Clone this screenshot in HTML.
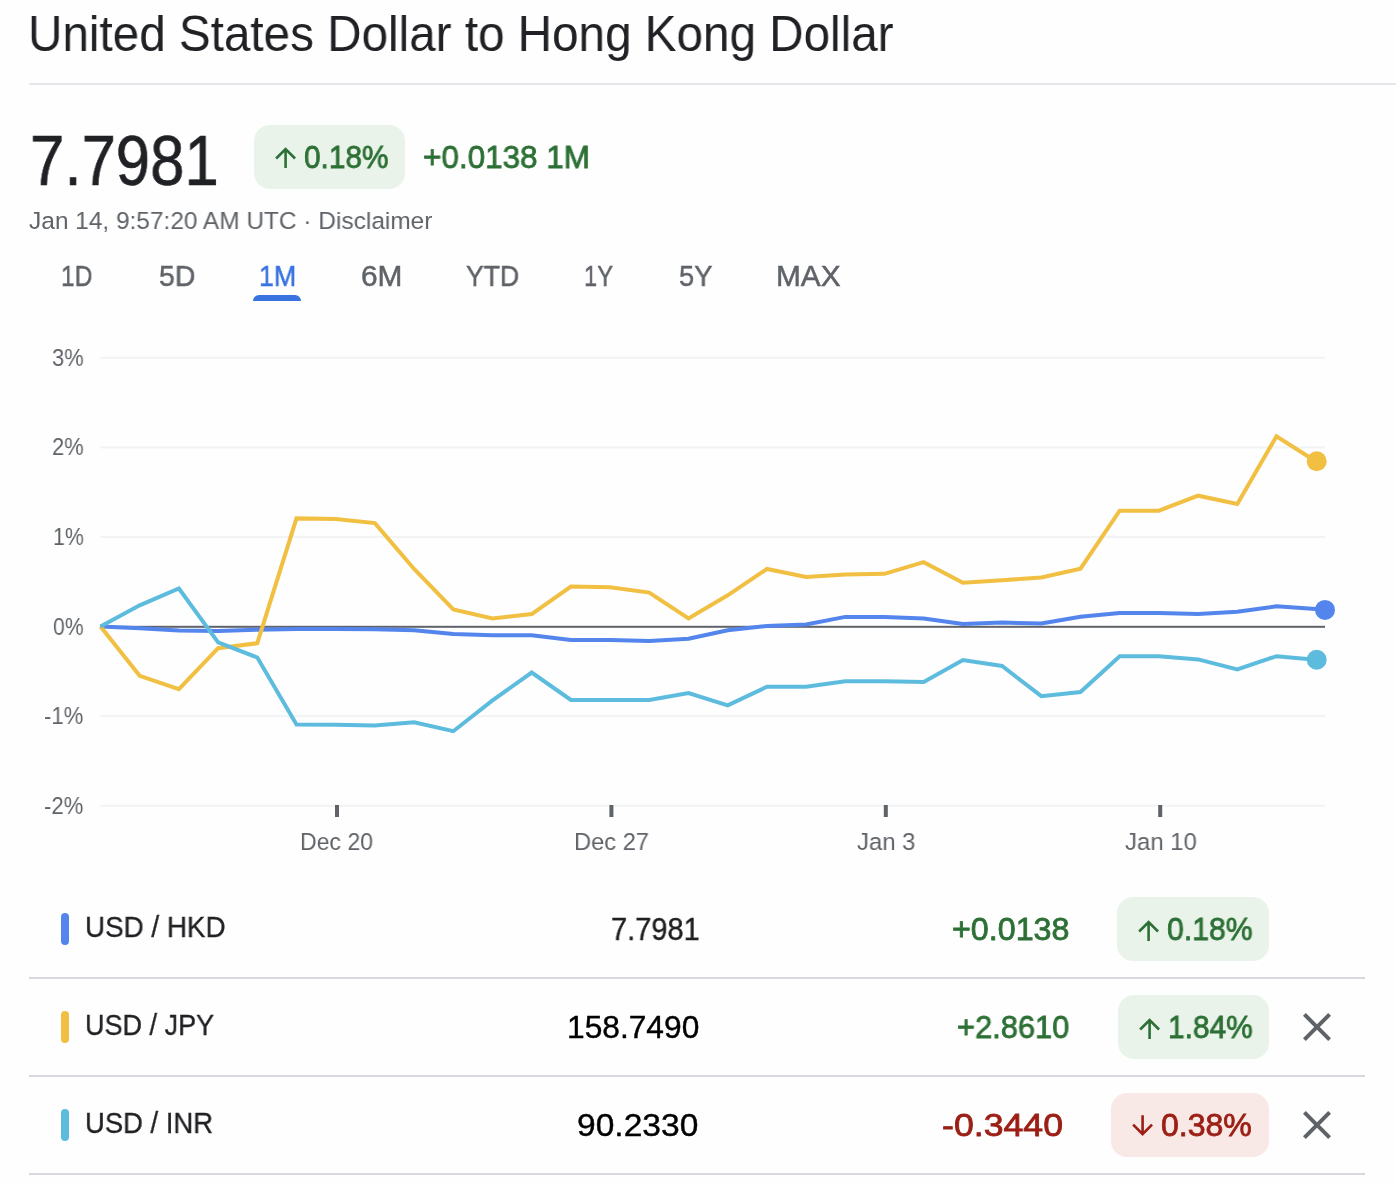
<!DOCTYPE html>
<html><head><meta charset="utf-8"><title>USD to HKD</title>
<style>
html,body{margin:0;padding:0;background:#fefefe;}
body{width:1396px;height:1182px;position:relative;overflow:hidden;font-family:"Liberation Sans",sans-serif;}
.a{position:absolute;display:block;}
.t{position:absolute;white-space:nowrap;line-height:1;display:block;transform-origin:0 0;will-change:transform;-webkit-font-smoothing:antialiased;}
</style></head><body>

<span class="t" id="t_title" style="left:28.02px;top:8.65px;font-size:50.5px;color:#202124;transform:scaleX(0.9430);">United States Dollar to Hong Kong Dollar</span>
<div class="a" style="left:29.00px;top:83.00px;width:1367.00px;height:2.00px;background:#e6e7eb;border-radius:0;"></div>
<span class="t" id="t_price" style="left:29.67px;top:126.05px;font-size:70px;color:#202124;-webkit-text-stroke:0.6px #202124;transform:scaleX(0.8815);">7.7981</span>
<div class="a" style="left:254.00px;top:125.00px;width:151.00px;height:64.00px;background:#e9f3ea;border-radius:16px;"></div>
<svg class="a" style="left:270.00px;top:141.60px" width="31.2" height="31.2" viewBox="0 0 24 24"><path fill="#2d7035" d="M4 12l1.41 1.41L11 7.83V20h2V7.83l5.58 5.59L20 12l-8-8-8 8z"/></svg>
<span class="t" id="t_hb" style="left:303.50px;top:140.81px;font-size:32px;color:#2d7035;-webkit-text-stroke:0.8px #2d7035;transform:scaleX(0.9313);">0.18%</span>
<span class="t" id="t_hc" style="left:422.58px;top:140.81px;font-size:32px;color:#2d7035;-webkit-text-stroke:0.8px #2d7035;transform:scaleX(0.9825);">+0.0138 1M</span>
<span class="t" id="t_ts" style="left:29.39px;top:208.66px;font-size:24.5px;color:#5f6368;transform:scaleX(0.9975);">Jan 14, 9:57:20 AM UTC · Disclaimer</span>
<span class="t" id="t_tab_1D" style="left:61.34px;top:262.15px;font-size:29px;color:#5f6368;-webkit-text-stroke:0.5px #5f6368;transform:scaleX(0.8436);">1D</span>
<span class="t" id="t_tab_5D" style="left:158.51px;top:262.15px;font-size:29px;color:#5f6368;-webkit-text-stroke:0.5px #5f6368;transform:scaleX(0.9774);">5D</span>
<span class="t" id="t_tab_1M" style="left:259.34px;top:262.15px;font-size:29px;color:#3873e0;-webkit-text-stroke:0.5px #3873e0;transform:scaleX(0.9205);">1M</span>
<span class="t" id="t_tab_6M" style="left:360.63px;top:262.15px;font-size:29px;color:#5f6368;-webkit-text-stroke:0.5px #5f6368;transform:scaleX(1.0294);">6M</span>
<span class="t" id="t_tab_YTD" style="left:466.18px;top:262.15px;font-size:29px;color:#5f6368;-webkit-text-stroke:0.5px #5f6368;transform:scaleX(0.9166);">YTD</span>
<span class="t" id="t_tab_1Y" style="left:584.04px;top:262.15px;font-size:29px;color:#5f6368;-webkit-text-stroke:0.5px #5f6368;transform:scaleX(0.8160);">1Y</span>
<span class="t" id="t_tab_5Y" style="left:679.32px;top:262.15px;font-size:29px;color:#5f6368;-webkit-text-stroke:0.5px #5f6368;transform:scaleX(0.9390);">5Y</span>
<span class="t" id="t_tab_MAX" style="left:776.42px;top:262.15px;font-size:29px;color:#5f6368;-webkit-text-stroke:0.5px #5f6368;transform:scaleX(1.0283);">MAX</span>
<div class="a" style="left:253.00px;top:295.00px;width:48.00px;height:6.00px;background:#3873e0;border-radius:6px 6px 0 0;"></div>
<svg class="a" style="left:0;top:0" width="1396" height="1182" viewBox="0 0 1396 1182">
<rect x="100.2" y="356.8" width="1224.8" height="2" fill="#f1f3f4"/>
<rect x="100.2" y="446.4" width="1224.8" height="2" fill="#f1f3f4"/>
<rect x="100.2" y="536.0" width="1224.8" height="2" fill="#f1f3f4"/>
<rect x="100.2" y="715.1" width="1224.8" height="2" fill="#f1f3f4"/>
<rect x="100.2" y="804.8" width="1224.8" height="2" fill="#f1f3f4"/>
<rect x="100.2" y="625.8" width="1224.8" height="2" fill="#5f6368"/>
<rect x="335.0" y="805" width="4" height="12" fill="#5f6368"/>
<rect x="609.4" y="805" width="4" height="12" fill="#5f6368"/>
<rect x="883.8" y="805" width="4" height="12" fill="#5f6368"/>
<rect x="1158.2" y="805" width="4" height="12" fill="#5f6368"/>
<path d="M100.5 626.5 L139.7 628.2 L178.9 630.4 L218.1 630.9 L257.3 629.7 L296.5 628.9 L335.7 628.9 L374.9 629.2 L414.1 630.3 L453.3 633.9 L492.5 635.2 L531.7 635.2 L570.9 639.9 L610.1 639.9 L649.3 640.9 L688.5 638.7 L727.7 630.2 L766.9 625.9 L806.1 624.4 L845.3 616.9 L884.5 616.9 L923.7 618.4 L962.9 623.9 L1002.1 622.6 L1041.3 623.4 L1080.5 616.8 L1119.7 613.0 L1158.9 613.0 L1198.1 614.0 L1237.3 611.8 L1276.5 606.3 L1315.7 609.0 L1325.0 609.9" fill="none" stroke="#5385ec" stroke-width="4" stroke-linejoin="miter" stroke-linecap="butt"/>
<path d="M100.5 626.5 L139.7 675.8 L178.9 689.1 L218.1 648.2 L257.3 643.2 L296.5 518.4 L335.7 519.1 L374.9 523.1 L414.1 569.0 L453.3 609.4 L492.5 618.4 L531.7 614.1 L570.9 586.5 L610.1 587.3 L649.3 592.6 L688.5 618.4 L727.7 595.3 L766.9 569.0 L806.1 577.0 L845.3 574.5 L884.5 573.8 L923.7 562.2 L962.9 582.8 L1002.1 580.3 L1041.3 577.4 L1080.5 568.7 L1119.7 510.7 L1158.9 510.7 L1198.1 495.7 L1237.3 504.0 L1276.5 436.3 L1315.7 461.3" fill="none" stroke="#f1bf42" stroke-width="4" stroke-linejoin="miter" stroke-linecap="butt"/>
<path d="M100.5 626.5 L139.7 605.3 L178.9 588.5 L218.1 642.4 L257.3 657.5 L296.5 724.4 L335.7 724.7 L374.9 725.4 L414.1 722.2 L453.3 731.2 L492.5 700.4 L531.7 672.5 L570.9 699.9 L610.1 699.9 L649.3 699.9 L688.5 693.1 L727.7 705.4 L766.9 686.8 L806.1 686.8 L845.3 681.3 L884.5 681.3 L923.7 682.1 L962.9 660.0 L1002.1 666.0 L1041.3 696.2 L1080.5 692.0 L1119.7 656.2 L1158.9 656.2 L1198.1 659.4 L1237.3 669.4 L1276.5 656.2 L1315.7 659.8" fill="none" stroke="#5dbcde" stroke-width="4" stroke-linejoin="miter" stroke-linecap="butt"/>
<circle cx="1316.7" cy="461.3" r="10" fill="#f1bf42"/>
<circle cx="1316.7" cy="659.8" r="10" fill="#5dbcde"/>
<circle cx="1325" cy="609.9" r="10" fill="#5385ec"/>
</svg>
<span class="t" id="t_y0" style="left:52.10px;top:345.86px;font-size:24.5px;color:#5f6368;transform:scaleX(0.8913);">3%</span>
<span class="t" id="t_y1" style="left:52.10px;top:435.46px;font-size:24.5px;color:#5f6368;transform:scaleX(0.8913);">2%</span>
<span class="t" id="t_y2" style="left:53.32px;top:525.06px;font-size:24.5px;color:#5f6368;transform:scaleX(0.8664);">1%</span>
<span class="t" id="t_y3" style="left:53.28px;top:614.56px;font-size:24.5px;color:#5f6368;transform:scaleX(0.8616);">0%</span>
<span class="t" id="t_y4" style="left:44.37px;top:704.16px;font-size:24.5px;color:#5f6368;transform:scaleX(0.9017);">-1%</span>
<span class="t" id="t_y5" style="left:44.37px;top:793.86px;font-size:24.5px;color:#5f6368;transform:scaleX(0.9017);">-2%</span>
<span class="t" id="t_x0" style="left:300.31px;top:829.76px;font-size:24.5px;color:#5f6368;transform:scaleX(0.9402);">Dec 20</span>
<span class="t" id="t_x1" style="left:573.66px;top:829.76px;font-size:24.5px;color:#5f6368;transform:scaleX(0.9653);">Dec 27</span>
<span class="t" id="t_x2" style="left:856.83px;top:829.76px;font-size:24.5px;color:#5f6368;transform:scaleX(0.9744);">Jan 3</span>
<span class="t" id="t_x3" style="left:1125.02px;top:829.76px;font-size:24.5px;color:#5f6368;transform:scaleX(0.9765);">Jan 10</span>
<div class="a" style="left:61.00px;top:913.00px;width:8.00px;height:32.00px;background:#5385ec;border-radius:4px;"></div>
<span class="t" id="t_lab0" style="left:84.52px;top:913.45px;font-size:29px;color:#202124;-webkit-text-stroke:0.3px #202124;transform:scaleX(0.9584);">USD / HKD</span>
<span class="t" id="t_val0" style="left:610.91px;top:914.34px;font-size:31.5px;color:#1f1f1f;-webkit-text-stroke:0.4px #1f1f1f;transform:scaleX(0.9217);">7.7981</span>
<span class="t" id="t_chg0" style="left:951.82px;top:914.34px;font-size:31.5px;color:#2d7035;-webkit-text-stroke:0.8px #2d7035;transform:scaleX(1.0238);">+0.0138</span>
<div class="a" style="left:1117.20px;top:897.00px;width:151.60px;height:63.60px;background:#e9f3ea;border-radius:16px;"></div>
<svg class="a" style="left:1133.10px;top:914.65px" width="31.2" height="31.2" viewBox="0 0 24 24"><path fill="#2d7035" d="M4 12l1.41 1.41L11 7.83V20h2V7.83l5.58 5.59L20 12l-8-8-8 8z"/></svg>
<span class="t" id="t_pct0" style="left:1166.89px;top:914.34px;font-size:31.5px;color:#2d7035;-webkit-text-stroke:0.8px #2d7035;transform:scaleX(0.9591);">0.18%</span>
<div class="a" style="left:29.00px;top:977.00px;width:1336.00px;height:2.00px;background:#d7d8dd;border-radius:0;"></div>
<div class="a" style="left:61.00px;top:1011.00px;width:8.00px;height:32.00px;background:#f1bf42;border-radius:4px;"></div>
<span class="t" id="t_lab1" style="left:84.86px;top:1011.45px;font-size:29px;color:#202124;-webkit-text-stroke:0.3px #202124;transform:scaleX(0.9312);">USD / JPY</span>
<span class="t" id="t_val1" style="left:567.27px;top:1012.34px;font-size:31.5px;color:#000;-webkit-text-stroke:0.4px #000;transform:scaleX(1.0068);">158.7490</span>
<span class="t" id="t_chg1" style="left:956.64px;top:1012.34px;font-size:31.5px;color:#2d7035;-webkit-text-stroke:0.8px #2d7035;transform:scaleX(0.9784);">+2.8610</span>
<div class="a" style="left:1118.20px;top:995.00px;width:150.60px;height:63.60px;background:#e9f3ea;border-radius:16px;"></div>
<svg class="a" style="left:1134.10px;top:1012.65px" width="31.2" height="31.2" viewBox="0 0 24 24"><path fill="#2d7035" d="M4 12l1.41 1.41L11 7.83V20h2V7.83l5.58 5.59L20 12l-8-8-8 8z"/></svg>
<span class="t" id="t_pct1" style="left:1167.71px;top:1012.34px;font-size:31.5px;color:#2d7035;-webkit-text-stroke:0.8px #2d7035;transform:scaleX(0.9491);">1.84%</span>
<svg class="a" style="left:1293.20px;top:1003.20px" width="48" height="48" viewBox="0 0 24 24"><path fill="#5f6368" d="M19 6.41L17.59 5 12 10.59 6.41 5 5 6.41 10.59 12 5 17.59 6.41 19 12 13.41 17.59 19 19 17.59 13.41 12z"/></svg>
<div class="a" style="left:29.00px;top:1075.00px;width:1336.00px;height:2.00px;background:#d7d8dd;border-radius:0;"></div>
<div class="a" style="left:61.00px;top:1109.00px;width:8.00px;height:32.00px;background:#5dbcde;border-radius:4px;"></div>
<span class="t" id="t_lab2" style="left:84.77px;top:1109.45px;font-size:29px;color:#202124;-webkit-text-stroke:0.3px #202124;transform:scaleX(0.9453);">USD / INR</span>
<span class="t" id="t_val2" style="left:576.75px;top:1110.34px;font-size:31.5px;color:#000;-webkit-text-stroke:0.4px #000;transform:scaleX(1.0654);">90.2330</span>
<span class="t" id="t_chg2" style="left:941.73px;top:1110.34px;font-size:31.5px;color:#9b1f15;-webkit-text-stroke:0.8px #9b1f15;transform:scaleX(1.1332);">-0.3440</span>
<div class="a" style="left:1110.90px;top:1093.00px;width:157.90px;height:63.60px;background:#f9e9e6;border-radius:16px;"></div>
<svg class="a" style="left:1126.80px;top:1109.95px" width="31.2" height="31.2" viewBox="0 0 24 24"><path fill="#9b1f15" d="M20 12l-1.41-1.41L13 16.17V4h-2v12.17l-5.58-5.59L4 12l8 8 8-8z"/></svg>
<span class="t" id="t_pct2" style="left:1160.88px;top:1110.34px;font-size:31.5px;color:#9b1f15;-webkit-text-stroke:0.8px #9b1f15;transform:scaleX(1.0172);">0.38%</span>
<svg class="a" style="left:1293.20px;top:1101.20px" width="48" height="48" viewBox="0 0 24 24"><path fill="#5f6368" d="M19 6.41L17.59 5 12 10.59 6.41 5 5 6.41 10.59 12 5 17.59 6.41 19 12 13.41 17.59 19 19 17.59 13.41 12z"/></svg>
<div class="a" style="left:29.00px;top:1173.00px;width:1336.00px;height:2.00px;background:#d7d8dd;border-radius:0;"></div>
</body></html>
